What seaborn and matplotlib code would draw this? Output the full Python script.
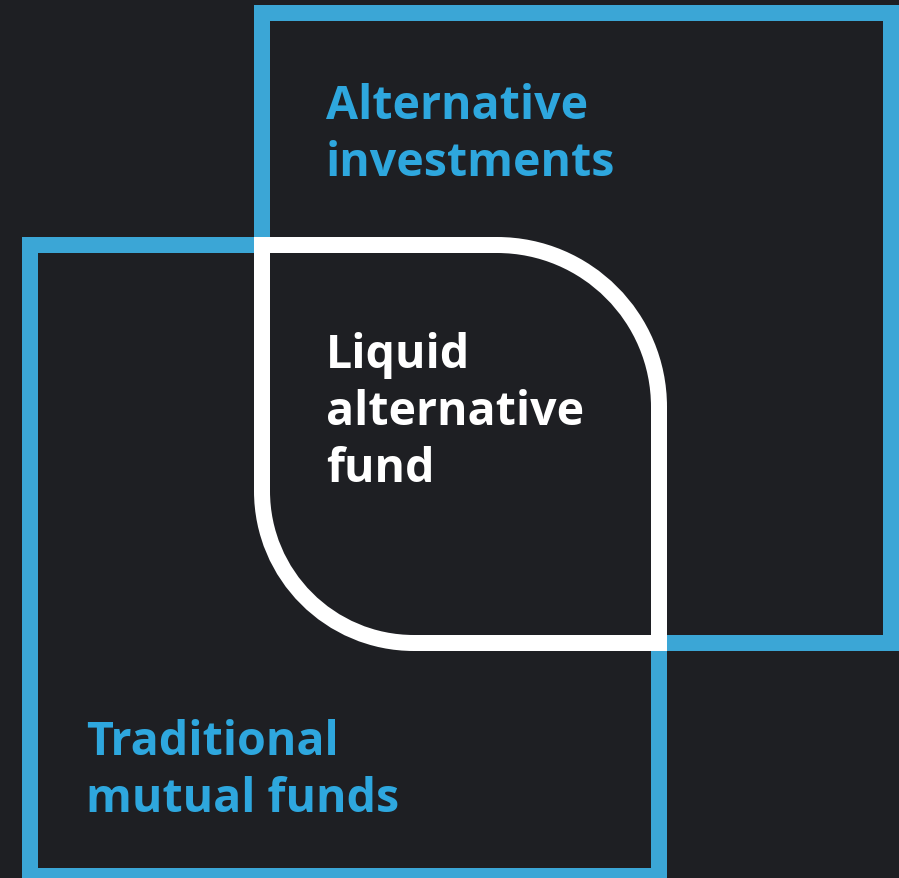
"""Overlap diagram: traditional mutual funds vs alternative investments."""
import numpy as np
import matplotlib
matplotlib.use('Agg')
import matplotlib.pyplot as plt
from matplotlib.patches import Rectangle, PathPatch
from matplotlib.path import Path
import seaborn as sns

sns.set_theme(style="dark")
plt.rcParams['font.family'] = ['Open Sans', 'DejaVu Sans']

BG = "#1e1f23"
BLUE = "#3ba6d6"
TEXT_BLUE = "#2ea7de"
WHITE = "#ffffff"

# boxes as (left, top, right, bottom) of the stroke centre line, pixel units
box_names = ["Alternative\ninvestments", "Traditional\nmutual funds"]
box_left = [262, 30]
box_top = [14, 246]
box_right = [891, 659]
box_bottom = [644, 877]

# overlap leaf: rounded top-right and bottom-left corners
leaf_radius = [162, 152]
leaf_label = "Liquid\nalternative\nfund"

# label anchors (left, first baseline)
label_x = [326, 86, 326]
label_y = [119, 755, 368]
line_step = 57

STROKE_PX = 16


def leaf_path(x0, y0, x1, y1, r1, r2):
    k = 0.5523
    verts = [
        (x0, y0), (x1 - r1, y0),
        (x1 - r1 + k * r1, y0), (x1, y0 + r1 - k * r1), (x1, y0 + r1),
        (x1, y1), (x0 + r2, y1),
        (x0 + r2 - k * r2, y1), (x0, y1 - r2 + k * r2), (x0, y1 - r2),
        (x0, y0),
    ]
    codes = [Path.MOVETO, Path.LINETO,
             Path.CURVE4, Path.CURVE4, Path.CURVE4,
             Path.LINETO, Path.LINETO,
             Path.CURVE4, Path.CURVE4, Path.CURVE4,
             Path.CLOSEPOLY]
    return Path(verts, codes)


fig = plt.figure(figsize=(8.99, 8.79), dpi=100, facecolor=BG)
ax = fig.add_axes([0, 0, 1, 1])
ax.set_facecolor(BG)
ax.set_xlim(0, 899)
ax.set_ylim(879, 0)
ax.axis("off")

lw = STROKE_PX * 72 / 100
for i in range(len(box_names)):
    ax.add_patch(Rectangle((box_left[i], box_top[i]),
                           box_right[i] - box_left[i], box_bottom[i] - box_top[i],
                           fill=False, edgecolor=BLUE, linewidth=lw,
                           joinstyle="miter"))

# hide the blue edges inside the overlap
half = STROKE_PX / 2
x0, y0 = box_left[0], box_top[1]
x1, y1 = box_right[1], box_bottom[0]
ax.add_patch(Rectangle((x0 - half, y0 - half), x1 - x0 + STROKE_PX,
                       y1 - y0 + STROKE_PX, facecolor=BG, edgecolor="none"))

leaf = leaf_path(x0, y0, x1, y1, leaf_radius[0], leaf_radius[1])
ax.add_patch(PathPatch(leaf, fill=False, edgecolor=WHITE, linewidth=lw,
                       joinstyle="miter"))

labels = box_names + [leaf_label]
colors = [TEXT_BLUE, TEXT_BLUE, WHITE]
for text, x, y, c in zip(labels, label_x, label_y, colors):
    for j, line in enumerate(text.split("\n")):
        ax.text(x, y + j * line_step, line, color=c, fontsize=33.5,
                fontweight="bold", ha="left", va="baseline")

fig.savefig("out.png", dpi=100, facecolor=BG)
